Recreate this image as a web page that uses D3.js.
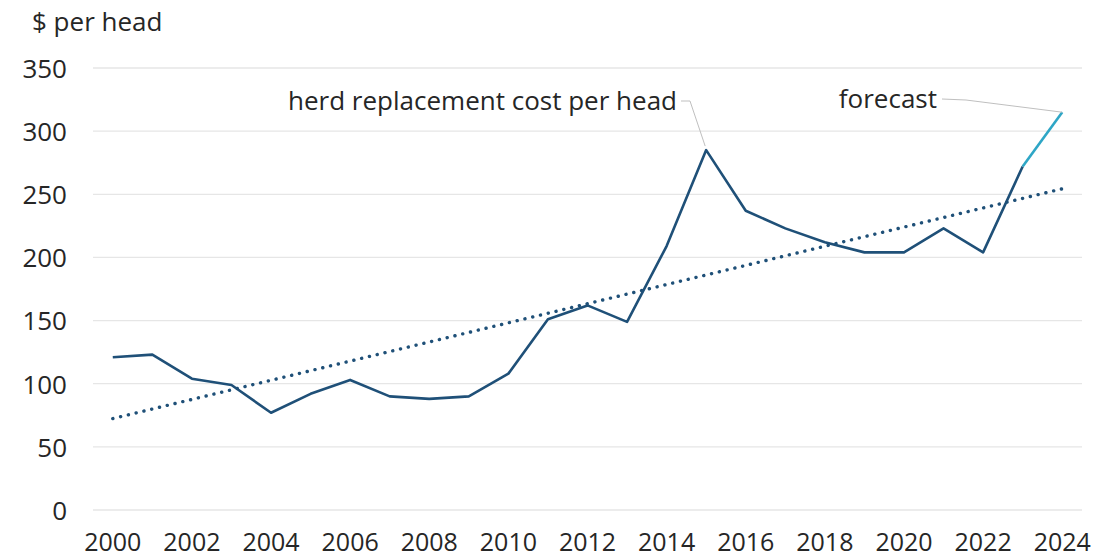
<!DOCTYPE html>
<html>
<head>
<meta charset="utf-8">
<script src="https://cdn.jsdelivr.net/npm/d3@7"></script>
<style>
  body { margin: 0; background: #fff; }
  svg text { font-family: "Open Sans", "Noto Sans", sans-serif; fill: #262626; }
</style>
</head>
<body>
<div id="chart"></div>
<script>
  // Values
  var years = d3.range(2000, 2025);
  var costPerHead = [121, 123, 104, 99, 77, 92, 103, 90, 88, 90, 108, 151, 162,
    149, 209, 285, 237, 223, 212, 204, 204, 223, 204, 272, 315];
  var forecastYears = [2023, 2024];
  var yTicks = [0, 50, 100, 150, 200, 250, 300, 350];
  var xTickYears = [2000, 2002, 2004, 2006, 2008, 2010, 2012, 2014, 2016, 2018, 2020, 2022, 2024];

  var width = 1117,
      height = 558,
      margin = { top: 68, right: 35, bottom: 48, left: 93 };

  var svg = d3.select('#chart')
    .append('svg')
    .attr('width', width)
    .attr('height', height);

  var x = d3.scaleBand()
    .domain(years)
    .range([margin.left, width - margin.right]);

  var y = d3.scaleLinear()
    .domain([0, 350])
    .range([height - margin.bottom, margin.top]);

  var cx = function( yr ) { return x(yr) + x.bandwidth() / 2; };

  // Gridlines
  svg.append('g')
    .selectAll('line')
    .data(yTicks)
    .enter().append('line')
    .attr('x1', margin.left)
    .attr('x2', width - margin.right)
    .attr('y1', function( d ) { return y(d); })
    .attr('y2', function( d ) { return y(d); })
    .attr('stroke', '#e6e6e6')
    .attr('stroke-width', 1.3);

  // Y axis labels
  var yAxis = d3.axisLeft(y).tickValues(yTicks).tickSize(0).tickPadding(0);
  svg.append('g')
    .attr('transform', 'translate(' + 67 + ',0)')
    .call(yAxis)
    .call(function( g ) { g.select('.domain').remove(); })
    .selectAll('text')
    .style('font-size', '26px')
    .attr('dy', '0.36em');

  // X axis labels
  var xAxis = d3.axisBottom(x).tickValues(xTickYears).tickSize(0).tickPadding(0);
  svg.append('g')
    .attr('transform', 'translate(0,' + 529 + ')')
    .call(xAxis)
    .call(function( g ) { g.select('.domain').remove(); })
    .selectAll('text')
    .style('font-size', '25px')
    .attr('dy', '0.88em');

  // Axis title
  svg.append('text')
    .attr('x', 32)
    .attr('y', 31)
    .style('font-size', '26px')
    .text('$ per head');

  // Linear trend fitted to actuals (2000-2023), extended to 2024
  var actual = years.map(function( yr, i ) { return { yr: yr, v: costPerHead[i] }; })
    .filter(function( d ) { return d.yr <= 2023; });
  var mx = d3.mean(actual, function( d ) { return d.yr; }),
      my = d3.mean(actual, function( d ) { return d.v; });
  var slope = d3.sum(actual, function( d ) { return (d.yr - mx) * (d.v - my); }) /
    d3.sum(actual, function( d ) { return (d.yr - mx) * (d.yr - mx); });
  var trend = [years[0], years[years.length - 1]].map(function( yr ) {
    return { yr: yr, v: my + slope * (yr - mx) };
  });

  var line = d3.line()
    .x(function( d ) { return cx(d.yr); })
    .y(function( d ) { return y(d.v); });

  svg.append('path')
    .datum(trend)
    .attr('d', line)
    .attr('fill', 'none')
    .attr('stroke', '#1f5078')
    .attr('stroke-width', 3.4)
    .attr('stroke-linecap', 'round')
    .attr('stroke-dasharray', '0.1 7.9');

  // Main series
  svg.append('path')
    .datum(actual)
    .attr('d', line)
    .attr('fill', 'none')
    .attr('stroke', '#1f5078')
    .attr('stroke-width', 2.6)
    .attr('stroke-linejoin', 'round');

  // Forecast segment
  var fc = forecastYears.map(function( yr ) {
    return { yr: yr, v: costPerHead[years.indexOf(yr)] };
  });
  svg.append('path')
    .datum(fc)
    .attr('d', line)
    .attr('fill', 'none')
    .attr('stroke', '#2ea6c6')
    .attr('stroke-width', 2.6);

  // Annotations with leader lines
  var peak = { yr: 2015, v: costPerHead[years.indexOf(2015)] };
  var last = fc[fc.length - 1];

  svg.append('text')
    .attr('x', 677)
    .attr('y', 110)
    .attr('text-anchor', 'end')
    .style('font-size', '26px')
    .text('herd replacement cost per head');

  svg.append('path')
    .attr('d', d3.line()([[681, 101], [690, 101], [cx(peak.yr) - 1, y(peak.v) - 4]]))
    .attr('fill', 'none')
    .attr('stroke', '#bfbfbf')
    .attr('stroke-width', 1);

  svg.append('text')
    .attr('x', 937)
    .attr('y', 108)
    .attr('text-anchor', 'end')
    .style('font-size', '26px')
    .text('forecast');

  svg.append('path')
    .attr('d', d3.line()([[942, 99], [966, 100], [cx(last.yr), y(last.v)]]))
    .attr('fill', 'none')
    .attr('stroke', '#bfbfbf')
    .attr('stroke-width', 1);
</script>
</body>
</html>
